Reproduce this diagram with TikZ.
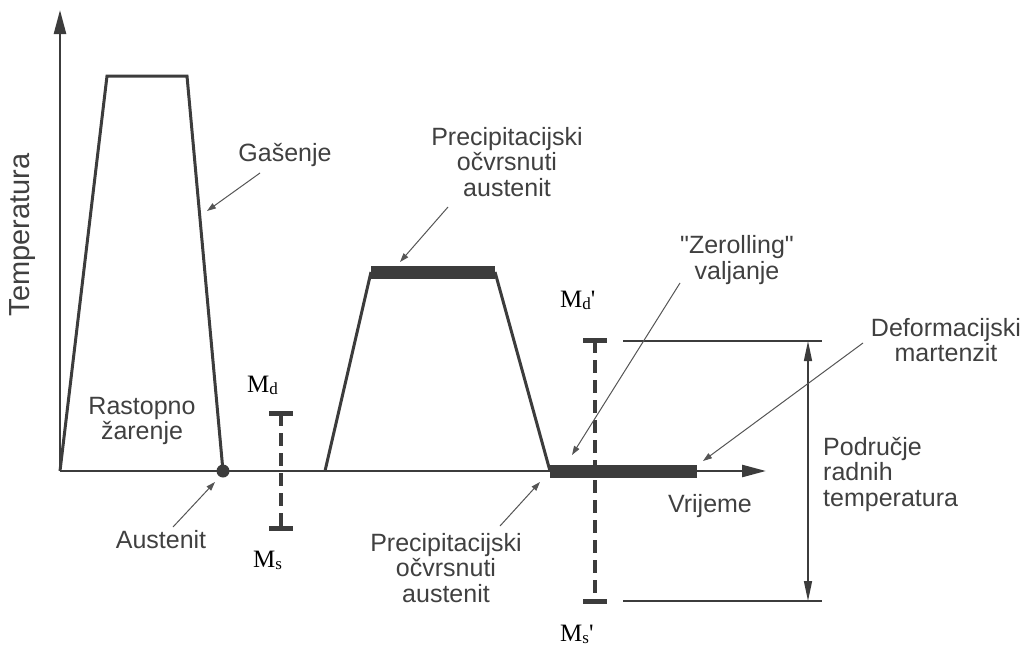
\documentclass[tikz,border=0pt]{standalone}
\usepackage{fontspec}
\setmainfont{Liberation Sans}[Ligatures=TeXOff]
\newfontfamily\serifM{Liberation Serif}[Ligatures=TeXOff]
\usetikzlibrary{arrows.meta}
\definecolor{ink}{HTML}{3C3C3C}
\definecolor{txt}{HTML}{404040}
\definecolor{lead}{HTML}{555555}
\newcommand{\sub}[1]{{\fontsize{17}{17}\selectfont\raisebox{-2pt}{#1}}}
\begin{document}
\begin{tikzpicture}[x=1pt,y=-1pt,
  lbl/.style={text=txt,font=\fontsize{25}{25.5}\selectfont,align=center,inner sep=0pt},
  curve/.style={draw=ink,line width=3pt,line join=miter},
  heavybar/.style={draw=ink,line width=13pt},
  leader/.style={draw=lead,line width=1pt,-{Triangle[length=9pt,width=6pt]}},
  axis/.style={draw=ink,line width=2.5pt,-{Triangle[length=24pt,width=12pt]}},
  dashv/.style={draw=ink,line width=4pt,dash pattern=on 13pt off 7pt},
  capbar/.style={draw=ink,line width=5pt},
  thinline/.style={draw=ink,line width=1.5pt},
  mlab/.style={font=\serifM\fontsize{25}{25}\selectfont,text=black,inner sep=0pt,anchor=base west}
]
\path[use as bounding box] (0,0) rectangle (1026,645);

% axes
\coordinate (O) at (60,471);
\coordinate (ytip) at (60,10);
\coordinate (xtip) at (766,471);
\draw[axis] (O) -- (ytip);
\draw[axis] (O) -- (xtip);

% first cycle
\coordinate (a1) at (107,76);
\coordinate (a2) at (187,76);
\coordinate (a3) at (223,471);
\draw[curve] (O) -- (a1) -- (a2) -- (a3);
\fill[ink] (a3) circle (6.5);

% second cycle
\coordinate (b0) at (325,471);
\coordinate (b1) at (371,272);
\coordinate (b2) at (495,272);
\coordinate (b3) at (550,471);
\coordinate (b4) at (697,471);
\draw[curve] (b0) -- (b1);
\draw[curve] (b2) -- (b3);
\draw[heavybar] (b1) -- (b2);
\draw[heavybar] (b3) -- (b4);

% Md / Ms markers
\coordinate (md1) at (281,413);
\coordinate (ms1) at (281,528);
\draw[dashv] (md1) -- (ms1);
\draw[capbar] ([xshift=-12pt]md1) -- ([xshift=12pt]md1);
\draw[capbar] ([xshift=-12pt]ms1) -- ([xshift=12pt]ms1);

\coordinate (md2) at (595,340);
\coordinate (ms2) at (595,601);
\draw[dashv] (md2) -- (ms2);
\draw[capbar] ([xshift=-12pt]md2) -- ([xshift=12pt]md2);
\draw[capbar] ([xshift=-12pt]ms2) -- ([xshift=12pt]ms2);

% working temperature range
\coordinate (h1a) at (623,341);
\coordinate (h1b) at (822,341);
\coordinate (h2a) at (623,601);
\coordinate (h2b) at (822,601);
\draw[thinline] (h1a) -- (h1b);
\draw[thinline] (h2a) -- (h2b);
\coordinate (r1) at (808,341);
\coordinate (r2) at (808,601);
\draw[thinline,{Triangle[length=20pt,width=8pt]}-{Triangle[length=20pt,width=8pt]}] (r1) -- (r2);

% labels
\node[lbl,rotate=90,font=\fontsize{29}{30}\selectfont] (temp) at (23,235) {Temperatura};
\node[lbl] (gas) at (285,155) {Gašenje};
\node[lbl] (rast) at (142,421) {Rastopno\\žarenje};
\node[lbl] (aus) at (161,540) {Austenit};
\node[lbl] (prec1) at (507,162) {Precipitacijski\\očvrsnuti\\austenit};
\node[lbl] (zer) at (737,260) {"Zerolling"\\valjanje};
\node[lbl] (vri) at (710,506) {Vrijeme};
\node[lbl] (prec2) at (446,568) {Precipitacijski\\očvrsnuti\\austenit};
\node[lbl] (def) at (946,340) {Deformacijski\\martenzit};
\node[lbl,align=left,anchor=west] (pod) at (823,474) {Područje\\radnih\\temperatura};

\node[mlab] (Md) at (247,392) {M\sub{d}};
\node[mlab] (Ms) at (253,567) {M\sub{s}};
\node[mlab] (Md2) at (560,307) {M\sub{d}'};
\node[mlab] (Ms2) at (560,641) {M\sub{s}'};

% leaders
\coordinate (g0) at (260,173);  \coordinate (g1) at (207,211);
\coordinate (u0) at (173,527);  \coordinate (u1) at (215,482);
\coordinate (p0) at (448,207);  \coordinate (p1) at (400,262);
\coordinate (z0) at (680,283);  \coordinate (z1) at (572,455);
\coordinate (d0) at (863,343);  \coordinate (d1) at (703,461);
\coordinate (q0) at (500,526);  \coordinate (q1) at (540,482);
\draw[leader] (g0) -- (g1);
\draw[leader] (u0) -- (u1);
\draw[leader] (p0) -- (p1);
\draw[leader] (z0) -- (z1);
\draw[leader] (d0) -- (d1);
\draw[leader] (q0) -- (q1);
\end{tikzpicture}
\end{document}
